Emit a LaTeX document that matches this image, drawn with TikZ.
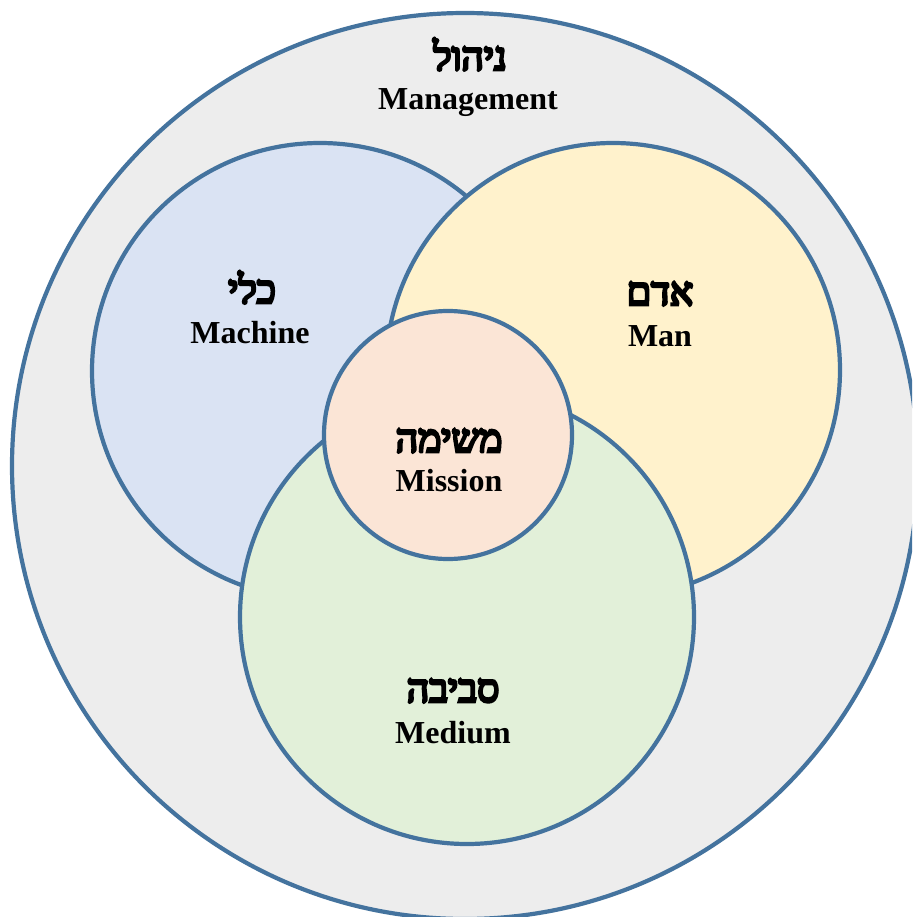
\documentclass[tikz,border=0pt]{standalone}
\usepackage{fontspec}
\setmainfont{Liberation Serif}
\newfontfamily\hebfont[Script=Hebrew, FakeBold=7]{Liberation Serif}
\TeXXeTstate=1
\definecolor{edge}{HTML}{44739E}
\definecolor{mgmt}{HTML}{EDEDED}
\definecolor{mach}{HTML}{DAE3F3}
\definecolor{human}{HTML}{FFF2CC}
\definecolor{envir}{HTML}{E2F0D9}
\definecolor{task}{HTML}{FBE5D6}
\tikzset{
  ring/.style={draw=edge, line width=4.2pt},
  heb/.style={anchor=base, font=\hebfont\fontsize{39}{39}\selectfont, inner sep=0pt},
  eng/.style={anchor=base, font=\bfseries\fontsize{32}{32}\selectfont, inner sep=0pt}
}
\begin{document}
\begin{tikzpicture}[x=1pt,y=-1pt]
\useasboundingbox (0,0) rectangle (912,917);
\clip (0,0) rectangle (912,917);
\fill[white] (0,0) rectangle (912,917);
\draw[ring, fill=mgmt] (465,466) circle[radius=453];
\draw[ring, fill=mach] (320,371) circle[radius=228];
\draw[ring, fill=human] (613,370) circle[radius=227];
\draw[ring, fill=envir] (467,617) circle[radius=227];
\draw[ring, fill=task] (448,435) circle[radius=124];
\node[heb] (mgh) at (470,70) {\beginR ניהול\endR};
\node[eng] (mge) at (468,110) {Management};
\node[heb] (mch) at (252,303) {\beginR כלי\endR};
\node[eng] (mce) at (250,343) {Machine};
\node[heb] (mnh) at (660,305) {\beginR אדם\endR};
\node[eng] (mne) at (660,346) {Man};
\node[heb] (msh) at (449,452) {\beginR משימה\endR};
\node[eng] (mse) at (449,491) {Mission};
\node[heb] (mdh) at (453,702) {\beginR סביבה\endR};
\node[eng] (mde) at (453,743) {Medium};
\end{tikzpicture}
\end{document}
